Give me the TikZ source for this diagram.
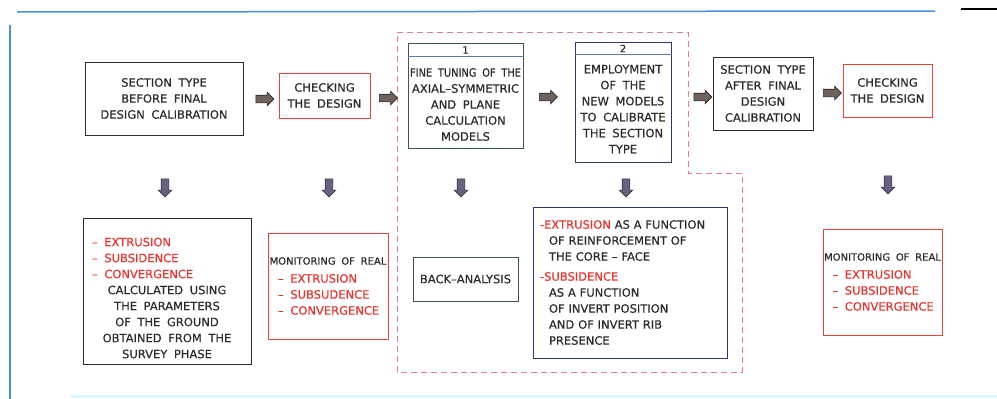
\documentclass[tikz,border=0pt]{standalone}
\usepackage{fontspec}
\newfontfamily\cadfont[WordSpace=1.8, FakeBold=0.5]{DejaVu Sans}
\usetikzlibrary{shapes.arrows, calc}
\definecolor{redtxt}{HTML}{E8352F}
\definecolor{redline}{HTML}{E5453A}
\definecolor{boxblack}{HTML}{2E2A2A}
\definecolor{boxnavy}{HTML}{2E3572}
\definecolor{boxteal}{HTML}{3F5550}
\definecolor{hdrblue}{HTML}{5A7AB0}
\definecolor{frame}{HTML}{E87A90}
\definecolor{pageblue}{HTML}{4A8FD8}
\definecolor{arrfill}{HTML}{6E625C}
\definecolor{arrdraw}{HTML}{2B2523}
\definecolor{darrfill}{HTML}{6A6080}
\definecolor{darrdraw}{HTML}{3A3050}

\begin{document}
\begin{tikzpicture}[x=1pt, y=-1pt,
  every node/.style={font=\cadfont\fontsize{11.5}{16}\selectfont, text=boxblack, inner sep=0pt},
  box/.style={draw=boxblack, line width=1pt, align=center},
  redbox/.style={draw=redline, line width=1pt, align=center},
  navybox/.style={draw=boxnavy, line width=1pt},
  tealbox/.style={draw=boxteal, line width=1pt},
  hdr/.style={draw=hdrblue, line width=0.8pt},
  num/.style={font=\cadfont\fontsize{10}{10}\selectfont},
  rarr/.style={single arrow, draw=arrdraw, fill=arrfill, line width=0.6pt,
    minimum height=18pt, inner sep=3.5pt, single arrow head extend=3pt},
  darr/.style={rarr, shape border rotate=270, draw=darrdraw, fill=darrfill},
  ]
  \useasboundingbox (0,0) rectangle (997,399);

  % page decoration
  \draw[pageblue, line width=1.5pt] (17,12) -- (935,11);
  \draw[pageblue, line width=1.5pt] (10,25) -- (10,399);
  \draw[black, line width=1.2pt] (961,9) -- (997,9);
  \draw[cyan!12, line width=3pt] (70,396) -- (997,396);

  % dashed frame round the calibration steps
  \draw[frame, line width=0.8pt, dash pattern=on 6pt off 4pt]
    (397,32) -- (688,32) -- (688,173) -- (742,173) -- (742,372) -- (397,372) -- cycle;

  % upper row
  \node[box, minimum width=158pt, minimum height=73pt] (secbefore) at (164,98.5)
    {SECTION TYPE\\BEFORE FINAL\\DESIGN CALIBRATION};
  \node[redbox, minimum width=91pt, minimum height=45pt] (checkA) at (324.5,95.5)
    {CHECKING\\THE DESIGN};

  \node[tealbox, minimum width=115pt, minimum height=105pt] (tune) at (465.5,95.5) {};
  \draw[hdr] ([yshift=-14pt]tune.north west) -- ([yshift=-14pt]tune.north east);
  \node[num] (tunenum) at (465.5,50) {1};
  \node[align=center] (tunetxt) at (465.5,104.5)
    {\scalebox{0.86}[1]{FINE TUNING OF THE}\\AXIAL–SYMMETRIC\\AND PLANE\\CALCULATION\\MODELS};

  \node[navybox, minimum width=96pt, minimum height=120pt] (employ) at (623,102) {};
  \draw[hdr] ([yshift=-13pt]employ.north west) -- ([yshift=-13pt]employ.north east);
  \node[num] (employnum) at (623,48.5) {2};
  \node[align=center] (employtxt) at (623,109)
    {EMPLOYMENT\\OF THE\\NEW MODELS\\TO CALIBRATE\\THE SECTION\\TYPE};

  \node[box, minimum width=100pt, minimum height=73pt] (secafter) at (763,93.5)
    {SECTION TYPE\\AFTER FINAL\\DESIGN\\CALIBRATION};
  \node[redbox, minimum width=89pt, minimum height=53pt] (checkB) at (887.5,90.5)
    {CHECKING\\THE DESIGN};

  % block arrows
  \node[rarr] (r1) at (263,99) {};
  \node[rarr] (r2) at (386.5,98) {};
  \node[rarr] (r3) at (546.5,97) {};
  \node[rarr] (r4) at (701,97) {};
  \node[rarr] (r5) at (830.5,93) {};

  \node[darr] (d1) at (165,186) {};
  \node[darr] (d2) at (329,186) {};
  \node[darr] (d3) at (461,186) {};
  \node[darr] (d4) at (626,186) {};
  \node[darr] (d5) at (888,183) {};

  % lower row
  \node[box, minimum width=168pt, minimum height=146pt] (calc) at (167,291) {};
  \node[align=center] (calctxt) at (167,298)
    {\makebox[150pt][l]{\color{redtxt}– EXTRUSION}\\
     \makebox[150pt][l]{\color{redtxt}– SUBSIDENCE}\\
     \makebox[150pt][l]{\color{redtxt}– CONVERGENCE}\\
     CALCULATED USING\\THE PARAMETERS\\OF THE GROUND\\OBTAINED FROM THE\\SURVEY PHASE};

  \node[redbox, minimum width=120pt, minimum height=106pt] (monA) at (328,286)
    {{\fontsize{10}{16}\selectfont MONITORING OF REAL}\\[2pt]
     \makebox[100pt][l]{\color{redtxt}– EXTRUSION}\\
     \makebox[100pt][l]{\color{redtxt}– SUBSUDENCE}\\
     \makebox[100pt][l]{\color{redtxt}– CONVERGENCE}};

  \node[tealbox, minimum width=105pt, minimum height=44pt] (back) at (465.5,279)
    {BACK–ANALYSIS};

  \node[navybox, minimum width=194pt, minimum height=151pt, text width=180pt, align=left]
    (func) at (630,282.5)
    {{\color{redtxt}-EXTRUSION} AS A FUNCTION\\
     \hspace*{9pt}OF REINFORCEMENT OF\\
     \hspace*{9pt}THE CORE – FACE\\[4pt]
     {\color{redtxt}-SUBSIDENCE}\\
     \hspace*{9pt}AS A FUNCTION\\
     \hspace*{9pt}OF INVERT POSITION\\
     \hspace*{9pt}AND OF INVERT RIB\\
     \hspace*{9pt}PRESENCE};

  \node[redbox, minimum width=119pt, minimum height=106pt] (monB) at (882.5,282)
    {{\fontsize{10}{16}\selectfont MONITORING OF REAL}\\[2pt]
     \makebox[100pt][l]{\color{redtxt}– EXTRUSION}\\
     \makebox[100pt][l]{\color{redtxt}– SUBSIDENCE}\\
     \makebox[100pt][l]{\color{redtxt}– CONVERGENCE}};
\end{tikzpicture}
\end{document}
